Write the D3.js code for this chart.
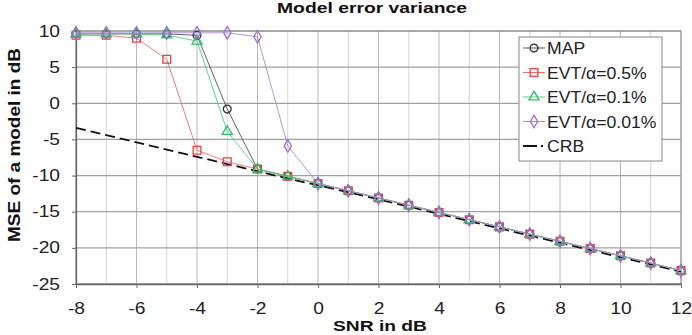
<!DOCTYPE html>
<html>
<head>
<meta charset="utf-8">
<script src="https://cdn.jsdelivr.net/npm/d3@7"></script>
<style>
  body { margin: 0; background: #fff; }
  text { font-family: "Liberation Sans", Arial, sans-serif; }
</style>
</head>
<body>
<svg></svg>
<script>
const width = 692, height = 335;

// data
const snr = [-8,-7,-6,-5,-4,-3,-2,-1,0,1,2,3,4,5,6,7,8,9,10,11,12];
const tail = [-9.1,-10.1,-11.1,-12.1,-13.1,-14.1,-15.1,-16.1,-17.1,-18.1,-19.1,-20.1,-21.1,-22.1,-23.15];
const mapVals   = [9.6, 9.6, 9.6, 9.6, 9.4, -0.8].concat(tail);
const evt05Vals = [9.4, 9.4, 9.0, 6.1, -6.5, -8.1].concat(tail);
const evt01Vals = [9.6, 9.6, 9.6, 9.45, 8.6, -3.9].concat(tail);
const evt001Vals = [9.75, 9.75, 9.75, 9.75, 9.75, 9.75, 9.2, -5.9].concat(tail.slice(2));
const crbVals = [-3.4,-4.4,-5.4,-6.4,-7.4,-8.4,-9.4,-10.4,-11.35,-12.3,-13.3,-14.3,-15.3,-16.3,-17.3,-18.3,-19.3,-20.3,-21.3,-22.3,-23.3];
const xTicks = [-8,-6,-4,-2,0,2,4,6,8,10,12];
const yTicks = [10,5,0,-5,-10,-15,-20,-25];

const series = [
  {name: 'MAP', vals: mapVals, color: '#333333', line: '#555555', shape: 'circle'},
  {name: 'EVT/α=0.5%', vals: evt05Vals, color: '#e8403f', line: '#ee7070', shape: 'square'},
  {name: 'EVT/α=0.1%', vals: evt01Vals, color: '#2fbf6a', line: '#4fcf85', shape: 'triangle'},
  {name: 'EVT/α=0.01%', vals: evt001Vals, color: '#9b6fd0', line: '#a98ad8', shape: 'diamond'}
];

const margin = {top: 31, left: 76, right: 11, bottom: 51};
const innerW = width - margin.left - margin.right;
const innerH = height - margin.top - margin.bottom;

const svg = d3.select('svg').attr('width', width).attr('height', height);
const g = svg.append('g').attr('transform', `translate(${margin.left},${margin.top})`);

const x = d3.scaleLinear().domain([-8, 12]).range([0, innerW]);
const y = d3.scaleLinear().domain([-25, 10]).range([innerH, 0]);

// the picture's lettering is a bit wider than Liberation Sans
function stretch(sel, k) {
  sel.each(function() {
    const w = this.getComputedTextLength();
    d3.select(this).attr('textLength', w * k).attr('lengthAdjust', 'spacingAndGlyphs');
  });
}

// grid
g.append('g').selectAll('line').data(snr).enter().append('line')
  .attr('x1', d => x(d)).attr('x2', d => x(d))
  .attr('y1', 0).attr('y2', innerH)
  .attr('stroke', d => d % 2 === 0 ? '#b8b8b8' : '#d6d6d6')
  .attr('stroke-width', 1);
g.append('g').selectAll('line').data(yTicks).enter().append('line')
  .attr('x1', 0).attr('x2', innerW)
  .attr('y1', d => y(d)).attr('y2', d => y(d))
  .attr('stroke', '#a0a0a0').attr('stroke-width', 1.3);
g.append('rect').attr('width', innerW).attr('height', innerH)
  .attr('fill', 'none').attr('stroke', '#a0a0a0').attr('stroke-width', 1.3);

// axes (plain hyphen for minus, like the original)
const fmt = d => String(d);
const xAxis = d3.axisBottom(x).tickValues(xTicks).tickFormat(fmt).tickSize(4).tickSizeOuter(0);
const yAxis = d3.axisLeft(y).tickValues(yTicks).tickFormat(fmt).tickSize(4).tickSizeOuter(0);
const xg = g.append('g').attr('transform', `translate(0,${innerH})`).call(xAxis);
const yg = g.append('g').call(yAxis);
[xg, yg].forEach(a => {
  a.select('.domain').attr('stroke', '#666').attr('stroke-width', 1.3);
  a.selectAll('.tick line').attr('stroke', '#666');
  a.selectAll('text').attr('font-size', 16).attr('fill', '#222')
    .style('font-family', '"Liberation Sans", Arial, sans-serif');
});
xg.selectAll('text').attr('y', 19).attr('dy', '0.71em');
yg.selectAll('text').attr('x', -16);
stretch(xg.selectAll('text'), 1.2);
stretch(yg.selectAll('text'), 1.2);

// CRB dashed
const line = d3.line().x((d, i) => x(snr[i])).y(d => y(d));
g.append('path').datum(crbVals)
  .attr('fill', 'none').attr('stroke', '#111').attr('stroke-width', 1.8)
  .attr('stroke-dasharray', '10,5').attr('d', line);

const symType = {circle: d3.symbolCircle, square: d3.symbolSquare, triangle: d3.symbolTriangle, diamond: d3.symbolDiamond};
const symSize = {circle: 48, square: 60, triangle: 44, diamond: 46};

function marker(sel, s) {
  sel.append('path')
    .attr('d', d3.symbol().type(symType[s.shape]).size(symSize[s.shape]))
    .attr('fill', 'none').attr('stroke', s.color).attr('stroke-width', 1.3);
}

series.forEach(s => {
  const sg = g.append('g');
  sg.append('path').datum(s.vals)
    .attr('fill', 'none').attr('stroke', s.line).attr('stroke-width', 0.9)
    .attr('d', line);
  sg.selectAll('g').data(s.vals).enter().append('g')
    .attr('transform', (d, i) => `translate(${x(snr[i])},${y(d)})`)
    .each(function() { marker(d3.select(this), s); });
});

// legend
const lg = svg.append('g').attr('transform', 'translate(519,37)');
lg.append('rect').attr('width', 143).attr('height', 124)
  .attr('fill', '#fff').attr('stroke', '#888').attr('stroke-width', 1);
const entries = series.concat([{name: 'CRB', color: '#111', shape: null}]);
entries.forEach((s, i) => {
  const ey = 11 + i * 24.5;
  const eg = lg.append('g').attr('transform', `translate(0,${ey})`);
  if (s.shape) {
    eg.append('line').attr('x1', 4).attr('x2', 26).attr('stroke', s.line).attr('stroke-width', 1);
    const mg = eg.append('g').attr('transform', 'translate(15,0)');
    marker(mg, s);
  } else {
    eg.append('line').attr('x1', 4).attr('x2', 18).attr('stroke', s.color).attr('stroke-width', 2);
    eg.append('line').attr('x1', 22).attr('x2', 24).attr('stroke', s.color).attr('stroke-width', 2);
  }
  const t = eg.append('text').attr('x', 28).attr('y', 6).attr('font-size', 16).attr('fill', '#222').text(s.name);
  stretch(t, 1.1);
});

// titles
const title = svg.append('text').attr('x', 372).attr('y', 13).attr('text-anchor', 'middle')
  .attr('font-size', 15).attr('font-weight', 'bold').attr('fill', '#111')
  .text('Model error variance');
title.attr('textLength', 190).attr('lengthAdjust', 'spacingAndGlyphs');
svg.append('text').attr('x', 380).attr('y', 331).attr('text-anchor', 'middle')
  .attr('font-size', 15).attr('font-weight', 'bold').attr('fill', '#111')
  .attr('textLength', 94).attr('lengthAdjust', 'spacingAndGlyphs')
  .text('SNR in dB');
svg.append('text').attr('transform', 'translate(20,145) rotate(-90)').attr('text-anchor', 'middle')
  .attr('font-size', 17).attr('font-weight', 'bold').attr('fill', '#111')
  .attr('textLength', 194).attr('lengthAdjust', 'spacingAndGlyphs')
  .text('MSE of a model in dB');
</script>
</body>
</html>
